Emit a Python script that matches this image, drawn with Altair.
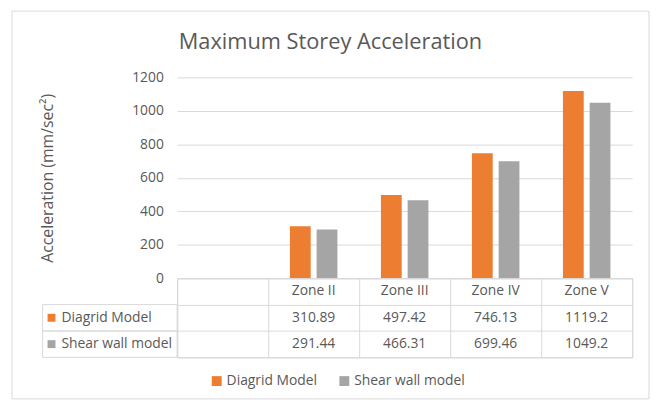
import altair as alt
import pandas as pd

# ---- data ----
categories = [" ", "Zone II", "Zone III", "Zone IV", "Zone V"]
zones = ["Zone II", "Zone III", "Zone IV", "Zone V"]
series = ["Diagrid Model", "Shear wall model"]
diagrid = [310.89, 497.42, 746.13, 1119.2]
shear = [291.44, 466.31, 699.46, 1049.2]
y_ticks = [0, 200, 400, 600, 800, 1000, 1200]
colors = ["#ED7D31", "#A5A5A5"]

chart_title = "Maximum Storey Acceleration"
y_title = "Acceleration (mm/sec²)"

TEXT = "#595959"
GRID = "#D9D9D9"
FONT = "Open Sans"
W, H, TH = 460, 203, 80

bars_df = pd.DataFrame({
    "zone": zones * 2,
    "series": [series[0]] * len(zones) + [series[1]] * len(zones),
    "value": diagrid + shear,
})

x_scale = alt.Scale(domain=categories, paddingInner=0, paddingOuter=0)
color_scale = alt.Scale(domain=series, range=colors)

bars = alt.Chart(bars_df).mark_bar().encode(
    x=alt.X("zone:N", scale=x_scale, axis=None),
    xOffset=alt.XOffset("series:N", scale=alt.Scale(domain=series, paddingInner=0.222, paddingOuter=0.815)),
    y=alt.Y("value:Q", scale=alt.Scale(domain=[0, 1200], nice=False),
            axis=alt.Axis(values=y_ticks, format="d", title=y_title, grid=True, gridColor=GRID,
                          domain=False, ticks=False, tickSize=0, labelPadding=14,
                          labelFontSize=14, labelFont=FONT, labelColor=TEXT,
                          titleFontSize=16, titleFont=FONT, titleFontWeight="normal",
                          titleColor=TEXT, titlePadding=77)),
    color=alt.Color("series:N", scale=color_scale,
                    legend=alt.Legend(title=None, orient="none", direction="horizontal",
                                      legendX=33, legendY=300, symbolType="square",
                                      symbolSize=100, symbolStrokeWidth=0,
                                      labelFontSize=14, labelFont=FONT, labelColor=TEXT,
                                      labelOffset=3, columnPadding=20, padding=0)),
)

frame = alt.Chart(alt.Data(values=[{"f": 1}])).mark_rect(
    filled=False, stroke=GRID, strokeWidth=1
).encode(x=alt.value(-167), x2=alt.value(477), y=alt.value(-67), y2=alt.value(325))

top = alt.layer(frame, bars).properties(
    width=W, height=H, view=alt.ViewBackground(stroke="transparent"))

# ---- data table ----
rows = ["Zone", series[0], series[1]]
trows = []
for c in categories:
    trows.append({"row": "Zone", "zone": c, "text": c})
for i, z in enumerate(zones):
    trows.append({"row": series[0], "zone": z, "text": str(diagrid[i])})
    trows.append({"row": series[1], "zone": z, "text": str(shear[i])})
table_df = pd.DataFrame(trows)
lab_df = pd.DataFrame({"row": series})

y_rows = alt.Y("row:N", scale=alt.Scale(domain=rows, paddingInner=0, paddingOuter=0),
               axis=alt.Axis(grid=True, tickBand="extent", gridColor=GRID, labels=False,
                             ticks=False, domain=False, title=None))

cells = alt.Chart(table_df).mark_text(fontSize=14, font=FONT, color=TEXT, baseline="middle").encode(
    x=alt.X("zone:N", scale=x_scale,
            axis=alt.Axis(grid=True, tickBand="extent", gridColor=GRID, labels=False,
                          ticks=False, domain=False, title=None)),
    y=y_rows,
    text="text:N",
)

boxes = alt.Chart(lab_df).mark_rect(filled=False, stroke=GRID, strokeWidth=1).encode(
    x=alt.value(-136), x2=alt.value(0), y=y_rows)

squares = alt.Chart(lab_df).mark_point(shape="square", filled=True, size=64, opacity=1).encode(
    x=alt.value(-127), y=y_rows,
    fill=alt.Fill("row:N", scale=alt.Scale(domain=series, range=colors), legend=None))

labels = alt.Chart(lab_df).mark_text(align="left", baseline="middle", fontSize=14,
                                     font=FONT, color=TEXT).encode(
    x=alt.value(-117), y=y_rows, text="row:N")

table = alt.layer(boxes, cells, squares, labels).properties(
    width=W, height=TH, view=alt.ViewBackground(stroke=GRID, strokeWidth=1))

chart = alt.vconcat(
    top, table, spacing=0, bounds="flush",
    title=alt.TitleParams(text=chart_title, fontSize=22, font=FONT, fontWeight="normal",
                          color=TEXT, anchor="middle", offset=-44),
    padding={"left": 3, "top": 0, "right": 0, "bottom": 0},
).configure(font=FONT)

chart.save("out.html", embed_options={"renderer": "svg", "actions": False})
